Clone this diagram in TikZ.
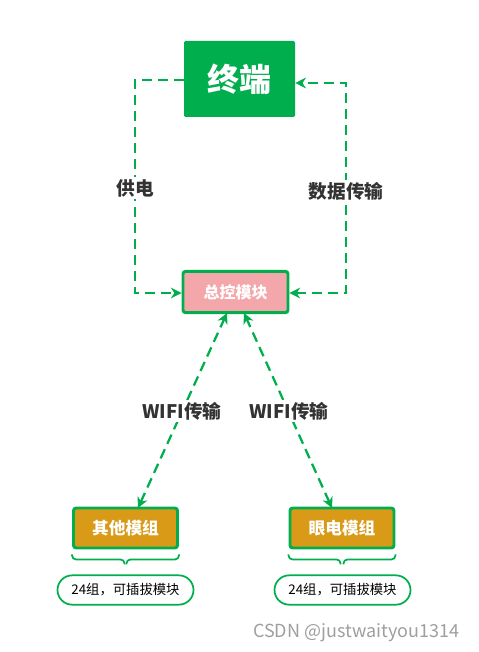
\documentclass[tikz,border=0pt]{standalone}
\usepackage{fontspec}
\setmainfont{Noto Sans CJK SC}
\usetikzlibrary{arrows.meta,decorations.pathreplacing}
\definecolor{grn}{HTML}{00AE4E}
\definecolor{pinkfill}{HTML}{F4A7AB}
\definecolor{gold}{HTML}{D99A18}
\definecolor{txt}{HTML}{333333}
\tikzset{
  conn/.style={draw=grn, line width=1.7pt, dash pattern=on 7.5pt off 4.5pt, -{Stealth[length=8pt,width=8pt]}},
  dconn/.style={conn, {Stealth[length=8pt,width=8pt]}-{Stealth[length=8pt,width=8pt]}},
  lbl/.style={font=\fontsize{14}{16}\selectfont\bfseries, text=txt, fill=white, inner sep=1.5pt},
  modbox/.style={draw=grn, line width=2.2pt, rounded corners=2pt, fill=gold, text=white, font=\fontsize{12.5}{14}\selectfont\bfseries, minimum width=78pt, minimum height=30pt},
  pill/.style={draw=grn, line width=1.3pt, rounded corners=11pt, fill=white, minimum width=102pt, minimum height=22pt, font=\fontsize{10}{11}\selectfont, text=black},
}
\begin{document}
\begin{tikzpicture}[x=0.75pt,y=-0.75pt]
\useasboundingbox[fill=white] (0,0) rectangle (478,652);
% terminal
\node[fill=grn, rounded corners=1pt, minimum width=83.25pt, minimum height=57pt, text=white, font=\fontsize{24}{26}\selectfont\bfseries] (term) at (239.5,79) {终端};
% master
\node[draw=grn, line width=2.2pt, rounded corners=2pt, fill=pinkfill, text=white, minimum width=78.75pt, minimum height=31pt, font=\fontsize{12}{14}\selectfont\bfseries] (master) at (235.5,292) {总控模块};
% modules
\node[modbox] (other) at (125.5,528) {其他模组};
\node[modbox] (eye) at (342,528) {眼电模组};
% pills
\node[pill] (p1) at (125.5,590) {24组，可插拔模块};
\node[pill] (p2) at (342.5,590) {24组，可插拔模块};
% coordinates
\coordinate (tl) at (135,80);
\coordinate (bl) at (135,293);
\coordinate (tr) at (346,83);
\coordinate (br) at (346,293);
\coordinate (m1) at (227,313);
\coordinate (m2) at (244,313);
\coordinate (o1) at (138,508);
\coordinate (e1) at (332,508);
% connectors
\draw[conn] (term.west |- tl) -- (tl) -- (bl) -- (master.west |- bl);
\draw[dconn] (master.east |- br) -- (br) -- (tr) -- (term.east |- tr);
\draw[dconn] (o1) -- (m1);
\draw[dconn] (e1) -- (m2);
% labels
\node[lbl] (l1) at (135,188) {供电};
\node[lbl] (l2) at (346,191) {数据传输};
\node[lbl] (l3) at (182,411) {WIFI传输};
\node[lbl] (l4) at (289,411) {WIFI传输};
% braces
\draw[grn, line width=1.3pt, rounded corners=3pt] (other.south west) ++(0,5) -- ++(0,5) -- ++(52.5,0) -- ++(0,5);
\draw[grn, line width=1.3pt, rounded corners=3pt] (other.south east) ++(0,5) -- ++(0,5) -- ++(-52.5,0) -- ++(0,5);
\draw[grn, line width=1.3pt, rounded corners=3pt] (eye.south west) ++(0,5) -- ++(0,5) -- ++(52,0) -- ++(0,5);
\draw[grn, line width=1.3pt, rounded corners=3pt] (eye.south east) ++(0,5) -- ++(0,5) -- ++(-52,0) -- ++(0,5);
% watermark
\node[text=gray!75, font=\fontsize{13.5}{15}\selectfont, anchor=east] (wm) at (464,633) {CSDN @justwaityou1314};
\end{tikzpicture}
\end{document}
